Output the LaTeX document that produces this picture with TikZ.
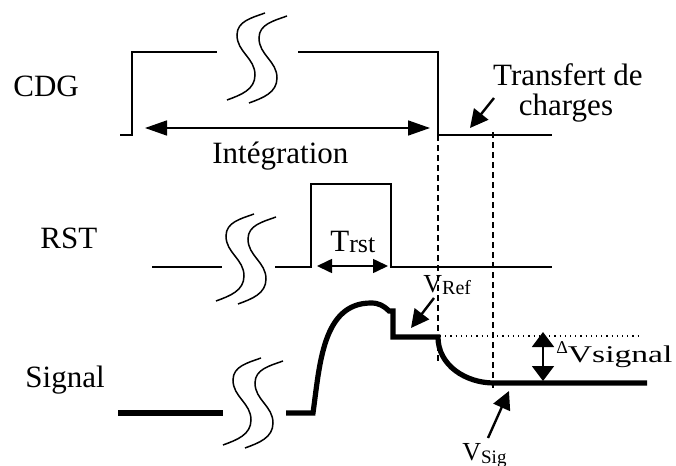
\documentclass[tikz,border=0pt]{standalone}
\usepackage{fontspec}
\setmainfont{Liberation Serif}
\usepackage{graphicx}
\usetikzlibrary{arrows.meta}

% S-shaped break mark drawn twice, centred at (#1,#2)
\newcommand{\tbreak}[2]{%
  \foreach \dx/\dy in {0/0,22/-3}{
    \draw[brk, shift={(#1+\dx,#2+\dy)}] (19,44) to[out=200,in=90] (-9,22)
      to[out=-90,in=90] (9,-18) to[out=-90,in=20] (-19,-43);
  }}

\tikzset{
  lbl/.style={font=\fontsize{15.5}{18}\selectfont, inner sep=0pt},
  wave/.style={line width=0.8pt},
  sigline/.style={line width=2.6pt},
  brk/.style={line width=0.75pt},
  guide/.style={dash pattern=on 3pt off 2pt, line width=0.8pt},
  bigtips/.style={{Triangle[length=11pt,width=7.5pt]}-{Triangle[length=11pt,width=7.5pt]}, line width=0.8pt},
  smalltips/.style={{Triangle[length=7.5pt,width=7pt]}-{Triangle[length=7.5pt,width=7pt]}, line width=0.8pt},
  widetips/.style={{Triangle[length=7.5pt,width=11pt]}-{Triangle[length=7.5pt,width=11pt]}, line width=0.8pt},
  pointer/.style={-{Triangle[length=9pt,width=9pt]}, line width=1.2pt}
}

\begin{document}
\begin{tikzpicture}[x=0.5pt, y=0.5pt]
\useasboundingbox (0,0) rectangle (676,-466);

% Signal names
\node[lbl, anchor=base west] (cdg) at (13,-97) {CDG};
\node[lbl, anchor=base west] (rst) at (40,-248) {RST};
\node[lbl, anchor=base west] (sig) at (25,-387) {Signal};

% CDG
\draw[wave] (120,-135) -- (132,-135) -- (132,-52) -- (217,-52);
\draw[wave] (298,-52) -- (438,-52) -- (438,-135) -- (552,-135);
\tbreak{246}{-57}

% RST
\draw[wave] (152,-267) -- (222,-267);
\draw[wave] (275,-267) -- (311,-267) -- (311,-184) -- (391,-184) -- (391,-267) -- (552,-267);
\tbreak{235}{-258}

% Output signal
\draw[sigline] (118,-413) -- (223,-413);
\draw[sigline] (286,-413) -- (313,-413) to[out=82,in=180] (371,-303)
  to[out=0,in=135] (389,-311) -- (393,-311) -- (393,-337) -- (438,-337)
  to[out=-90,in=180] (494,-383) -- (647,-383);
\tbreak{242}{-402}

% Sampling instants
\draw[guide] (438,-135) -- (438,-362);
\draw[guide] (493,-132) -- (493,-388);
\draw[dotted, line width=0.6pt] (440,-336) -- (640,-336);

% Integration time
\coordinate (intA) at (145,-128);
\coordinate (intB) at (430,-128);
\draw[bigtips] (intA) -- (intB);
\node[lbl, anchor=base west] (integ) at (212,-163) {Intégration};

% Reset pulse width
\coordinate (rstA) at (317,-266);
\coordinate (rstB) at (388,-266);
\draw[smalltips] (rstA) -- (rstB);
\node[lbl, anchor=base west] (trst) at (330,-251)
  {T\raisebox{-0.5pt}{\fontsize{13}{14}\selectfont rst}};

% Charge transfer
\node[lbl, anchor=base] (transfer) at (568,-85) {Transfert de};
\node[lbl, anchor=base] (charges) at (566,-115) {charges};
\coordinate (trA) at (494,-98);
\coordinate (trB) at (470,-128);
\draw[pointer] (trA) -- (trB);

% Reference level
\node[lbl, anchor=base west] (vref) at (423,-292)
  {{\fontsize{13}{14}\selectfont V}\raisebox{-1.5pt}{\fontsize{10}{11}\selectfont Ref}};
\coordinate (refA) at (434,-298);
\coordinate (refB) at (411,-328);
\draw[pointer] (refA) -- (refB);

% Signal level
\node[lbl, anchor=base west] (vsig) at (462,-460)
  {{\fontsize{13}{14}\selectfont V}\raisebox{-1.5pt}{\fontsize{9.5}{10}\selectfont Sig}};
\coordinate (sigA) at (488,-438);
\coordinate (sigB) at (509,-391);
\draw[pointer] (sigA) -- (sigB);

% Swing
\coordinate (dvA) at (543,-332);
\coordinate (dvB) at (543,-381);
\draw[widetips] (dvA) -- (dvB);
\node[lbl, anchor=base west] (dv) at (556,-362)
  {\raisebox{4.5pt}{\fontsize{9}{10}\selectfont Δ}\scalebox{1.4}[1]{\fontsize{12}{14}\selectfont Vsignal}};

\end{tikzpicture}
\end{document}
